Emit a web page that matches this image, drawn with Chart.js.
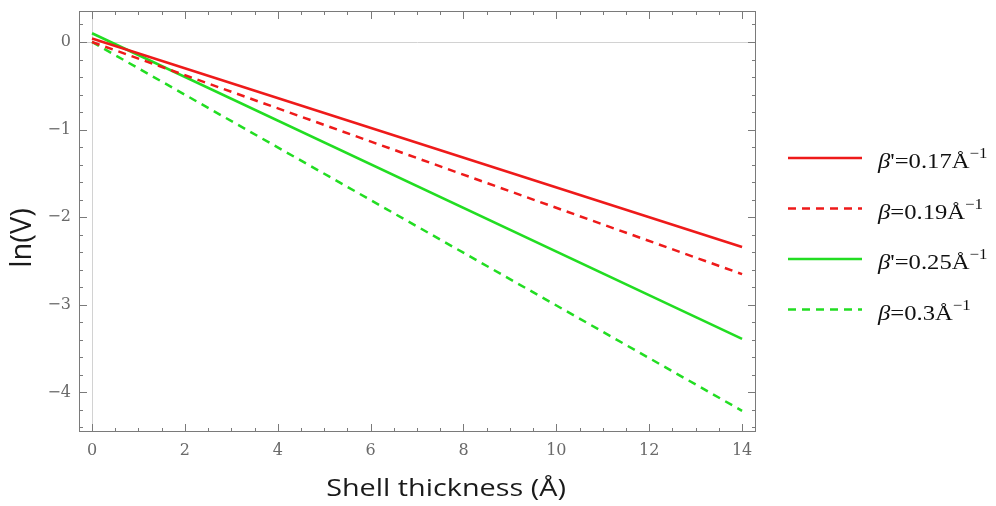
<!DOCTYPE html>
<html>
<head>
<meta charset="utf-8">
<script src="https://cdn.jsdelivr.net/npm/chart.js@4/dist/chart.umd.min.js"></script>
<style>
  html, body { margin: 0; padding: 0; background: #fff; }
  #wrap { width: 996px; height: 506px; position: relative; }
</style>
</head>
<body>
<div id="wrap"><canvas id="decayChart"></canvas></div>
<script>
// shell thickness (Å) where each straight line is evaluated
const thickness = [0, 14];

// ln(V) for each decay constant
const lnV_017 = [0.04, -2.34];
const lnV_019 = [0, -2.65];
const lnV_025 = [0.1, -3.39];
const lnV_030 = [0, -4.21];

// legend pieces: prime mark and beta value
const seriesPrime = ["'", '', "'", ''];
const seriesBeta = ['0.17', '0.19', '0.25', '0.3'];

const xTicks = [0, 2, 4, 6, 8, 10, 12, 14];
const yTicks = [0, -1, -2, -3, -4];

const RED = '#ee1a1a';
const GREEN = '#22dd22';
const DASH = [8, 6];

function toPoints(ys) {
    return thickness.map((x, i) => ({ x: x, y: ys[i] }));
}

function line(label, ys, color, dash) {
    return {
        label: label,
        data: toPoints(ys),
        borderColor: color,
        backgroundColor: color,
        borderWidth: 2.5,
        borderDash: dash,
        pointRadius: 0,
        fill: false,
        tension: 0
    };
}

function minusSign(v) {
    return v < 0 ? '\u2212' + Math.abs(v) : String(v);
}

// frame with inward ticks on all four sides
const frameTicks = {
    id: 'frameTicks',
    afterDatasetsDraw(chart) {
        const { ctx, chartArea: a, scales: { x, y } } = chart;
        ctx.save();
        ctx.strokeStyle = '#7a7a7a';
        ctx.lineWidth = 1;
        ctx.strokeRect(a.left + 0.5, a.top + 0.5, a.right - a.left - 1, a.bottom - a.top - 1);

        const tick = (x1, y1, x2, y2) => {
            ctx.beginPath();
            ctx.moveTo(x1, y1);
            ctx.lineTo(x2, y2);
            ctx.stroke();
        };

        for (let v = Math.ceil(x.min * 2) / 2; v <= x.max; v += 0.5) {
            const px = Math.round(x.getPixelForValue(v)) + 0.5;
            const len = Math.abs(v % 2) < 1e-6 ? 8 : 4;
            tick(px, a.bottom, px, a.bottom - len);
            tick(px, a.top, px, a.top + len);
        }
        for (let k = Math.ceil(y.min * 5); k <= Math.floor(y.max * 5); k++) {
            const py = Math.round(y.getPixelForValue(k / 5)) + 0.5;
            const len = k % 5 === 0 ? 8 : 4;
            tick(a.left, py, a.left + len, py);
            tick(a.right, py, a.right - len, py);
        }
        ctx.restore();
    }
};

// axis titles and the side legend
const sideText = {
    id: 'sideText',
    afterDraw(chart) {
        const { ctx, chartArea: a } = chart;
        ctx.save();
        ctx.fillStyle = '#1a1a1a';
        ctx.textAlign = 'center';
        ctx.textBaseline = 'middle';

        // x title, slightly widened
        ctx.save();
        ctx.translate(a.left + 367, 489);
        ctx.scale(1.2, 1);
        ctx.font = '24px "Open Sans", sans-serif';
        ctx.fillText('Shell thickness (\u00c5)', 0, 0);
        ctx.restore();

        ctx.save();
        ctx.translate(23, 238);
        ctx.rotate(-Math.PI / 2);
        ctx.font = '29px "Open Sans", sans-serif';
        ctx.fillText('ln(V)', 0, 0);
        ctx.restore();

        // legend rows
        const x0 = a.right + 32;
        const x1 = x0 + 74;
        const tx = x1 + 16;
        chart.data.datasets.forEach((ds, i) => {
            const cy = 158 + i * 50.5;
            ctx.strokeStyle = ds.borderColor;
            ctx.lineWidth = 2.5;
            ctx.setLineDash(ds.borderDash || []);
            ctx.beginPath();
            ctx.moveTo(x0, cy);
            ctx.lineTo(x1, cy);
            ctx.stroke();
            ctx.setLineDash([]);

            ctx.save();
            ctx.translate(tx, cy + 10);
            ctx.scale(1.12, 1);
            ctx.textAlign = 'left';
            ctx.textBaseline = 'alphabetic';
            ctx.fillStyle = '#111';
            let cx = 0;
            ctx.font = 'italic 22px "Liberation Serif", serif';
            ctx.fillText('\u03b2', cx, 0);
            cx += ctx.measureText('\u03b2').width;
            ctx.font = '22px "Liberation Serif", serif';
            const main = seriesPrime[i] + '=' + seriesBeta[i] + '\u00c5';
            ctx.fillText(main, cx, 0);
            cx += ctx.measureText(main).width;
            ctx.font = '15px "Liberation Serif", serif';
            ctx.fillText('\u22121', cx, -10);
            ctx.restore();
        });
        ctx.restore();
    }
};

const chart = new Chart(document.getElementById('decayChart'), {
    type: 'line',
    data: {
        datasets: [
            line("\u03b2'=0.17\u00c5\u207b\u00b9", lnV_017, RED, []),
            line('\u03b2=0.19\u00c5\u207b\u00b9', lnV_019, RED, DASH),
            line("\u03b2'=0.25\u00c5\u207b\u00b9", lnV_025, GREEN, []),
            line('\u03b2=0.3\u00c5\u207b\u00b9', lnV_030, GREEN, DASH)
        ]
    },
    options: {
        responsive: true,
        maintainAspectRatio: false,
        animation: false,
        layout: { padding: { top: 11, right: 240, left: 0, bottom: 0 } },
        plugins: {
            legend: { display: false },
            tooltip: { enabled: false }
        },
        scales: {
            x: {
                type: 'linear',
                min: -0.28,
                max: 14.3,
                afterFit: s => { s.height = 74; s.paddingLeft = 0; s.paddingRight = 0; },
                afterBuildTicks: s => { s.ticks = xTicks.map(v => ({ value: v })); },
                border: { display: false },
                grid: {
                    drawTicks: false,
                    color: c => (c.tick && c.tick.value === 0 ? '#d2d2d2' : 'rgba(0,0,0,0)')
                },
                ticks: {
                    padding: 9,
                    color: '#6a6a6a',
                    font: { family: '"DejaVu Serif", serif', size: 16 },
                    maxRotation: 0,
                    callback: v => minusSign(v)
                }
            },
            y: {
                type: 'linear',
                min: -4.452,
                max: 0.354,
                afterFit: s => { s.width = 79; s.paddingTop = 0; s.paddingBottom = 0; },
                afterBuildTicks: s => { s.ticks = yTicks.map(v => ({ value: v })); },
                border: { display: false },
                grid: {
                    drawTicks: false,
                    color: c => (c.tick && c.tick.value === 0 ? '#d2d2d2' : 'rgba(0,0,0,0)')
                },
                ticks: {
                    padding: 8,
                    color: '#6a6a6a',
                    font: { family: '"DejaVu Serif", serif', size: 16 },
                    callback: v => minusSign(v)
                }
            }
        }
    },
    plugins: [frameTicks, sideText]
});
</script>
</body>
</html>
